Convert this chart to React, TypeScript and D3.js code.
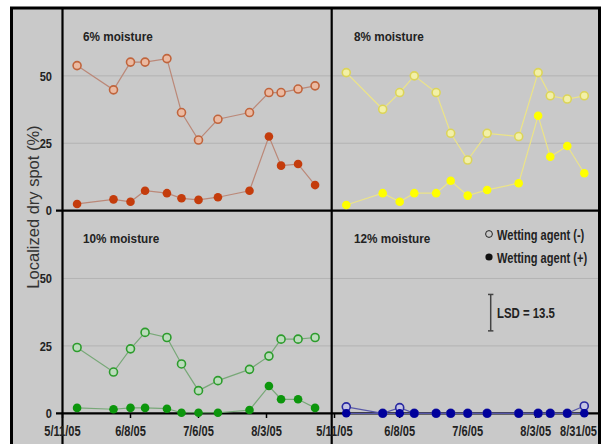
import * as d3 from 'd3';
import type { ReactNode } from 'react';

// sampling dates (same for every panel)
const dates = [
  '2005-05-17', '2005-06-01', '2005-06-08', '2005-06-14', '2005-06-23',
  '2005-06-29', '2005-07-06', '2005-07-14', '2005-07-27', '2005-08-04',
  '2005-08-09', '2005-08-16', '2005-08-23',
];

// wetting agent (-) = open circles, (+) = filled circles
const m6Minus = [53.8, 44.8, 55.1, 55.1, 56.4, 36.4, 26.2, 33.9, 36.4, 43.8, 43.8, 45.1, 46.3];
const m6Plus = [2.5, 4.2, 3.3, 7.4, 6.5, 4.6, 4.0, 5.0, 7.4, 27.5, 16.7, 17.3, 9.5];
const m8Minus = [51.2, 37.6, 43.8, 50.0, 43.8, 28.7, 18.8, 28.7, 27.5, 51.2, 42.6, 41.4, 42.6];
const m8Plus = [2.1, 6.5, 3.3, 6.5, 6.5, 11.1, 5.6, 7.7, 10.2, 35.2, 20.0, 24.0, 13.9];
const m10Minus = [24.4, 15.3, 23.9, 30.0, 28.1, 18.3, 8.4, 12.1, 16.3, 21.2, 27.5, 27.5, 28.1];
const m10Plus = [2.0, 1.5, 2.0, 2.0, 1.7, 0.2, 0.2, 0.2, 1.2, 10.1, 5.2, 5.2, 2.0];
const m12Minus = [2.4, 0, 2.1, 0, 0, 0, 0, 0, 0, 0, 0, 0, 2.7];
const m12Plus = [0, 0, 0, 0, 0, 0, 0, 0, 0, 0, 0, 0, 0];

const panelTitles = ['6% moisture', '8% moisture', '10% moisture', '12% moisture'];
const yTicks = [0, 25, 50];
const leftTickDates = ['2005-05-11', '2005-06-08', '2005-07-06', '2005-08-03', '2005-08-31'];
const leftTickLabels = ['5/11/05', '6/8/05', '7/6/05', '8/3/05', '5/11/05'];
const rightTickDates = ['2005-06-08', '2005-07-06', '2005-08-03', '2005-08-31'];
const rightTickLabels = ['6/8/05', '7/6/05', '8/3/05', '8/31/05'];
const lsd = 13.5;

const parse = d3.timeParse('%Y-%m-%d');
const font = "'Liberation Sans', Arial, sans-serif";

const colX = [62.5, 331.7];
const colW = 272;
const rowZero = [210.7, 413.3];
const yPx = 2.697;

const palettes = [
  { line: '#bb8878', openStroke: '#c0643c', openFill: '#ebbaa2', fill: '#c43c0c' },
  { line: '#ece488', openStroke: '#dcd458', openFill: '#f2f0a8', fill: '#ffff00' },
  { line: '#78a878', openStroke: '#2c9c2c', openFill: '#bcdcbc', fill: '#0c960c' },
  { line: '#5858a8', openStroke: '#2828a0', openFill: '#c4c4e4', fill: '#00009c' },
];
const seriesSets = [
  [m6Minus, m6Plus],
  [m8Minus, m8Plus],
  [m10Minus, m10Plus],
  [m12Minus, m12Plus],
];

// bold text squeezed horizontally (the original uses a narrow bold face)
const NT = ({
  x, y, sx = 0.9, size = 13, anchor = 'start', dy, children,
}: {
  x: number; y: number; sx?: number; size?: number; anchor?: string; dy?: string; children: ReactNode;
}) => (
  <text
    transform={`translate(${x},${y}) scale(${sx},1)`}
    dy={dy}
    textAnchor={anchor}
    fontFamily={font}
    fontWeight="bold"
    fontSize={size}
    fill="#222"
    stroke="none"
  >
    {children}
  </text>
);

export default function App() {
  const start = parse('2005-05-11') as Date;
  const end = parse('2005-08-31') as Date;
  const parsed = dates.map((d) => parse(d) as Date);

  const panels = seriesSets.map((s, i) => {
    const col = i % 2;
    const row = Math.floor(i / 2);
    const x = d3.scaleTime().domain([start, end]).range([colX[col], colX[col] + colW]);
    const y = d3.scaleLinear().domain([0, 75]).range([rowZero[row], rowZero[row] - 75 * yPx]);
    return { i, col, row, x, y, s, pal: palettes[i] };
  });

  return (
    <svg
      width={602}
      height={444}
      style={{ position: 'absolute', left: 0, top: 0, background: '#fff' }}
    >
      <rect x={11.5} y={8} width={588} height={446} fill="#c9c9c9" stroke="#000" strokeWidth={3} />

      {/* grid lines */}
      {panels.map((p) =>
        yTicks.filter((t) => t > 0).map((t) => (
          <line
            key={`g${p.i}-${t}`}
            x1={colX[p.col]}
            x2={p.col === 0 ? colX[1] : 598}
            y1={p.y(t)}
            y2={p.y(t)}
            stroke="#b3b3b3"
            strokeWidth={1}
          />
        ))
      )}

      {/* axes frame */}
      <line x1={62.5} x2={62.5} y1={8} y2={444} stroke="#000" strokeWidth={2.2} />
      <line x1={331.7} x2={331.7} y1={8} y2={444} stroke="#000" strokeWidth={2.2} />
      {rowZero.map((z) => (
        <line key={z} x1={56} x2={598} y1={z} y2={z} stroke="#000" strokeWidth={2.2} />
      ))}

      {/* y ticks */}
      {panels
        .filter((p) => p.col === 0)
        .map((p) =>
          yTicks.map((t) => (
            <NT key={`yt${p.i}-${t}`} x={52} y={p.y(t)} dy="0.36em" anchor="end" size={13} sx={0.85}>
              {t}
            </NT>
          ))
        )}

      {/* x ticks */}
      {leftTickDates.map((d, k) => {
        const xs = panels[2].x(parse(d) as Date);
        return (
          <g key={`xl${k}`}>
            <line x1={xs} x2={xs} y1={413} y2={418} stroke="#000" strokeWidth={1.5} />
            <NT x={xs} y={436} anchor="middle" size={14} sx={0.79}>
              {leftTickLabels[k]}
            </NT>
          </g>
        );
      })}
      {rightTickDates.map((d, k) => {
        const xs = panels[3].x(parse(d) as Date);
        const last = k === rightTickDates.length - 1;
        return (
          <g key={`xr${k}`}>
            {!last && <line x1={xs} x2={xs} y1={413} y2={418} stroke="#000" strokeWidth={1.5} />}
            <NT x={last ? 597 : xs} y={436} anchor={last ? 'end' : 'middle'} size={14} sx={0.79}>
              {rightTickLabels[k]}
            </NT>
          </g>
        );
      })}

      <text
        transform="translate(38.5,207) rotate(-90)"
        textAnchor="middle"
        fontFamily={font}
        fontSize={16.5}
        fill="#333"
      >
        Localized dry spot (%)
      </text>

      {/* series */}
      {panels.map((p) => {
        const line = d3
          .line<number>()
          .x((_, k) => p.x(parsed[k]))
          .y((v) => p.y(v));
        return (
          <g key={`s${p.i}`}>
            <path d={line(p.s[0]) ?? ''} fill="none" stroke={p.pal.line} strokeWidth={1.2} />
            {p.s[0].map((v, k) => (
              <circle
                key={`o${k}`}
                cx={p.x(parsed[k])}
                cy={p.y(v)}
                r={4}
                fill={p.pal.openFill}
                stroke={p.pal.openStroke}
                strokeWidth={1.6}
              />
            ))}
            <path d={line(p.s[1]) ?? ''} fill="none" stroke={p.pal.line} strokeWidth={1.2} />
            {p.s[1].map((v, k) => (
              <circle key={`f${k}`} cx={p.x(parsed[k])} cy={p.y(v)} r={4.3} fill={p.pal.fill} />
            ))}
            <NT x={p.col === 0 ? 83 : 354} y={p.row === 0 ? 41 : 243} size={13.5} sx={0.87}>
              {panelTitles[p.i]}
            </NT>
          </g>
        );
      })}

      {/* legend */}
      <circle cx={489} cy={234} r={3.4} fill="none" stroke="#222" strokeWidth={1} />
      <NT x={497} y={239.5} size={15} sx={0.74}>
        Wetting agent (-)
      </NT>
      <circle cx={489} cy={257} r={3.6} fill="#111" />
      <NT x={497} y={262.5} size={15} sx={0.74}>
        Wetting agent (+)
      </NT>

      {/* LSD bar */}
      {(() => {
        const y = panels[3].y;
        const top = y(50) + 16;
        const bot = top + (y(0) - y(lsd));
        return (
          <g stroke="#444" strokeWidth={1.5}>
            <line x1={490.7} x2={490.7} y1={top} y2={bot} />
            <line x1={488} x2={493.4} y1={top} y2={top} />
            <line x1={488} x2={493.4} y1={bot} y2={bot} />
            <NT x={497} y={(top + bot) / 2} dy="0.36em" size={15} sx={0.76}>
              LSD = {lsd}
            </NT>
          </g>
        );
      })()}
    </svg>
  );
}
